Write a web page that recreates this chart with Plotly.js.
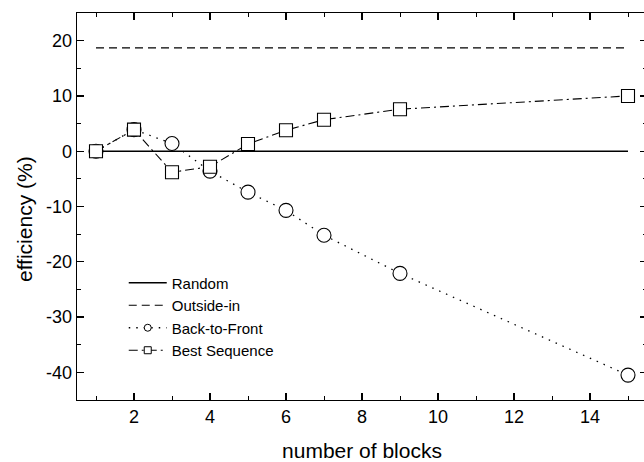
<!DOCTYPE html>
<html>
<head>
<meta charset="utf-8">
<script src="https://cdn.plot.ly/plotly-3.0.1.min.js"></script>
<style>
html,body{margin:0;padding:0;overflow:hidden;background:#fff;width:644px;height:462px;}
#chart{width:650px;height:462px;}
</style>
</head>
<body>
<div id="chart"></div>
<script>
// ---- data ----
const blocks = [1, 2, 3, 4, 5, 6, 7, 9, 15];
const randomEff = [0, 0, 0, 0, 0, 0, 0, 0, 0];
const outsideInEff = [18.7, 18.7, 18.7, 18.7, 18.7, 18.7, 18.7, 18.7, 18.7];
const backToFrontEff = [0, 3.9, 1.4, -3.6, -7.4, -10.7, -15.2, -22.1, -40.5];
const bestSequenceEff = [0, 3.9, -3.8, -2.8, 1.3, 3.8, 5.7, 7.6, 10.0];
const seriesNames = ["Random", "Outside-in", "Back-to-Front", "Best Sequence"];
const xTickVals = [2, 4, 6, 8, 10, 12, 14];
const xTickText = ["2", "4", "6", "8", "10", "12", "14"];
const yTickVals = [-40, -30, -20, -10, 0, 10, 20];
const yTickText = ["-40", "-30", "-20", "-10", "0", "10", "20"];
const xTitle = "number of blocks";
const yTitle = "efficiency (%)";

const FONT = "Liberation Sans, Arial, sans-serif";
const styles = [
  {dash: "solid", width: 1.4, symbol: "circle", showMarker: false},
  {dash: "8px,5px", width: 1.1, symbol: "circle", showMarker: false},
  {dash: "1.5px,6px", width: 1.3, symbol: "circle", showMarker: true, size: 14},
  {dash: "9px,4px,2px,4px", width: 1.1, symbol: "square", showMarker: true, size: 13}
];
const seriesY = [randomEff, outsideInEff, backToFrontEff, bestSequenceEff];

const traces = [];
seriesY.forEach((ys, i) => {
  const s = styles[i];
  traces.push({
    x: blocks, y: ys, type: "scatter",
    mode: s.showMarker ? "lines+markers" : "lines",
    name: seriesNames[i], showlegend: false,
    line: {color: "#000", width: s.width, dash: s.dash},
    marker: {symbol: s.symbol, size: s.size || 6, color: "#fff",
             line: {color: "#000", width: 1.1}},
    cliponaxis: false
  });
});
// legend entries with small markers
seriesY.forEach((ys, i) => {
  const s = styles[i];
  traces.push({
    x: [null], y: [null], type: "scatter",
    mode: s.showMarker ? "lines+markers" : "lines",
    name: seriesNames[i], showlegend: true,
    line: {color: "#000", width: s.width, dash: s.dash},
    marker: {symbol: s.symbol, size: 7, color: "#fff",
             line: {color: "#000", width: 1}}
  });
});

const axisCommon = {
  showline: true, linecolor: "#000", linewidth: 1.3, mirror: "ticks",
  ticks: "inside", ticklen: 7, tickwidth: 1.2, tickcolor: "#000",
  showgrid: false, zeroline: false,
  tickfont: {family: FONT, size: 18, color: "#000"}
};

const layout = {
  width: 650, height: 462,
  margin: {l: 77, r: 3, t: 13, b: 62},
  paper_bgcolor: "#fff", plot_bgcolor: "#fff",
  font: {family: FONT, color: "#000"},
  showlegend: true,
  legend: {
    x: 0.082, y: 0.345, xanchor: "left", yanchor: "top",
    bgcolor: "rgba(0,0,0,0)", borderwidth: 0,
    font: {family: FONT, size: 15, color: "#000"},
    itemwidth: 38, tracegroupgap: 0
  },
  xaxis: Object.assign({}, axisCommon, {
    range: [0.5, 15.5], tickvals: xTickVals, ticktext: xTickText,
    minor: {dtick: 1, ticks: "inside", ticklen: 4, tickwidth: 1, tickcolor: "#000"},
    title: {text: xTitle, font: {family: FONT, size: 21, color: "#000"}, standoff: 18}
  }),
  yaxis: Object.assign({}, axisCommon, {
    range: [-45, 25], tickvals: yTickVals, ticktext: yTickText,
    minor: {dtick: 5, ticks: "inside", ticklen: 4, tickwidth: 1, tickcolor: "#000"}
  }),
  annotations: [{
    text: yTitle, xref: "paper", yref: "paper",
    x: -0.091, y: 0.468, xanchor: "center", yanchor: "middle",
    textangle: -90, showarrow: false,
    font: {family: FONT, size: 21, color: "#000"}
  }]
};

Plotly.newPlot("chart", traces, layout, {displayModeBar: false, staticPlot: true});
</script>
</body>
</html>
